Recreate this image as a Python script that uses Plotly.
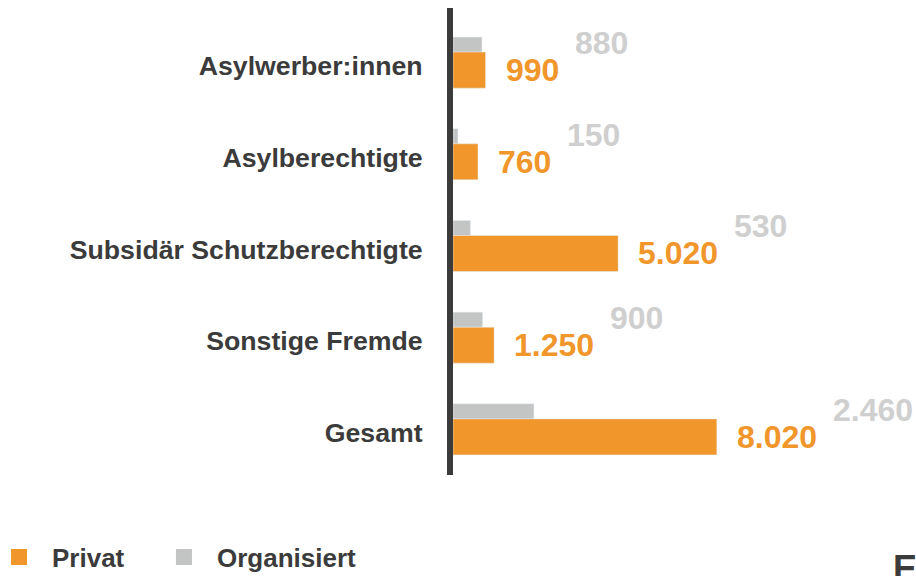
import plotly.graph_objects as go

categories = ["Asylwerber:innen", "Asylberechtigte", "Subsidär Schutzberechtigte", "Sonstige Fremde", "Gesamt"]
privat = [990, 760, 5020, 1250, 8020]
organisiert = [880, 150, 530, 900, 2460]
series_names = ["Privat", "Organisiert"]

ORANGE = "#F0962A"
GRAY_BAR = "#C3C4C4"
GRAY_TXT = "#CFCFCF"
DARK = "#3B3B3B"
FONT = "Liberation Sans, Arial, sans-serif"
NUM_SIZE = 32


def fmt(v):
    return f"{v:,}".replace(",", ".")


def text_w(s):
    return sum(0.556 * NUM_SIZE if ch.isdigit() else 0.278 * NUM_SIZE for ch in s)


fig = go.Figure()
fig.add_trace(go.Bar(y=categories, x=organisiert, orientation="h", marker_color=GRAY_BAR,
                     width=0.164, offset=-0.316, showlegend=False, hoverinfo="skip"))
fig.add_trace(go.Bar(y=categories, x=privat, orientation="h", marker_color=ORANGE,
                     width=0.393, offset=-0.152, showlegend=False, hoverinfo="skip"))
# legend entries (non-breaking spaces widen the gap between entries)
legend_labels = [series_names[0] + "\u00a0\u00a0\u00a0", series_names[1]]
for name, col in zip(legend_labels, [ORANGE, GRAY_BAR]):
    fig.add_trace(go.Scatter(x=[None], y=[None], mode="markers", name=name,
                             marker=dict(symbol="square", size=16, color=col)))

annotations = []
for c, p, o in zip(categories, privat, organisiert):
    ps = fmt(p)
    annotations.append(dict(x=p, y=c, xref="x", yref="y", text=ps, showarrow=False,
                            xanchor="left", yanchor="middle", xshift=18, yshift=-4,
                            font=dict(family=FONT, size=NUM_SIZE, color=ORANGE, weight="bold")))
    annotations.append(dict(x=p, y=c, xref="x", yref="y", text=fmt(o), showarrow=False,
                            xanchor="left", yanchor="middle", xshift=18 + text_w(ps) + 16, yshift=23,
                            font=dict(family=FONT, size=NUM_SIZE, color=GRAY_TXT, weight="bold")))
annotations.append(dict(x=0.98, y=-0.152, xref="paper", yref="paper", text="E", showarrow=False,
                        xanchor="left", yanchor="top",
                        font=dict(family=FONT, size=36, color=DARK, weight="bold")))

fig.update_layout(
    width=916, height=576,
    margin=dict(l=453, r=16, t=8, b=101, autoexpand=False),
    paper_bgcolor="white", plot_bgcolor="white",
    barmode="overlay",
    xaxis=dict(range=[0, 13587], visible=False, fixedrange=True),
    yaxis=dict(type="category", range=[4.46, -0.633], showline=True, linewidth=6, linecolor=DARK,
               showgrid=False, zeroline=False, ticks="", ticklabelstandoff=19, fixedrange=True,
               tickfont=dict(family=FONT, size=26.7, color=DARK, weight="bold")),
    showlegend=True,
    legend=dict(orientation="h", xref="paper", yref="paper",
                x=-1.0447, xanchor="left", y=-0.1756, yanchor="middle",
                itemwidth=56,
                font=dict(family=FONT, size=26, color=DARK, weight="bold"),
                bgcolor="rgba(0,0,0,0)"),
    annotations=annotations,
)

fig.write_html("out.html", config={"displayModeBar": False},
               post_script="document.body.style.margin='0px';")
